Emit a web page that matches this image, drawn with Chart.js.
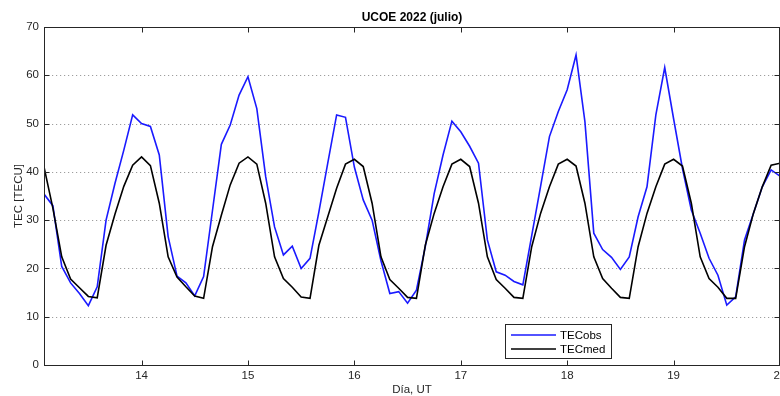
<!DOCTYPE html>
<html>
<head>
<meta charset="utf-8">
<script src="https://cdn.jsdelivr.net/npm/chart.js@4.4.1/dist/chart.umd.min.js"></script>
<style>
  html, body { margin: 0; padding: 0; background: #fff; overflow: hidden; }
  #wrap { width: 800px; height: 396px; }
</style>
</head>
<body>
<div id="wrap"><canvas id="tecChart" width="800" height="396"></canvas></div>
<script>
// TEC observado vs mediana, UCOE julio 2022 (muestras cada 2 h)
const startDay = 13 + 2 / 24;
const stepDay = 2 / 24;

const tecObs = [
  35.4, 33.0, 20.4, 17.0, 14.8, 12.3, 16.2, 30.0, 37.6, 44.5, 51.8, 50.0,
  49.4, 43.5, 26.6, 18.4, 17.0, 14.3, 18.3, 32.0, 45.7, 49.7, 55.9, 59.7,
  53.1, 39.0, 28.6, 22.8, 24.6, 20.0, 22.1, 31.7, 41.8, 51.8, 51.3, 41.0,
  34.2, 30.0, 21.6, 14.8, 15.2, 12.8, 15.5, 24.5, 35.5, 43.5, 50.5, 48.3,
  45.3, 41.8, 25.9, 19.3, 18.6, 17.3, 16.6, 26.8, 37.0, 47.3, 52.5, 57.0,
  64.2, 50.4, 27.3, 23.9, 22.3, 19.8, 22.4, 30.7, 36.9, 51.8, 61.6, 51.0,
  40.7, 32.1, 27.3, 22.1, 18.6, 12.4, 14.1, 25.9, 31.4, 36.9, 40.4, 39.1
];

const tecMed = [
  41.0, 32.5, 22.4, 17.8, 16.0, 14.2, 13.9, 24.8, 31.2, 37.0, 41.4, 43.1,
  41.3, 33.5, 22.4, 18.2, 16.2, 14.3, 13.8, 24.5, 31.0, 37.3, 41.8, 43.1,
  41.6, 33.5, 22.4, 17.9, 16.1, 14.1, 13.8, 24.8, 30.7, 36.6, 41.6, 42.6,
  41.1, 33.5, 22.4, 17.7, 15.9, 14.0, 13.8, 24.8, 31.4, 36.9, 41.6, 42.6,
  41.1, 33.5, 22.4, 17.7, 15.9, 14.0, 13.8, 24.5, 31.4, 36.9, 41.6, 42.6,
  41.2, 33.5, 22.4, 17.9, 15.9, 14.0, 13.8, 24.5, 31.4, 36.9, 41.6, 42.6,
  41.2, 33.5, 22.4, 17.9, 16.1, 13.8, 13.8, 24.5, 31.4, 36.9, 41.4, 41.8
];

const xTicks = [14, 15, 16, 17, 18, 19, 20];
const yTicks = [0, 10, 20, 30, 40, 50, 60, 70];

const toPoints = (vals) => vals.map((v, i) => ({ x: startDay + i * stepDay, y: v }));

const axisColor = '#262626';
const tickFont = '11.5px "Liberation Sans", Arial, sans-serif';

// Marco, rejilla punteada, marcas de ejes, títulos y leyenda al estilo MATLAB
const matlabFrame = {
  id: 'matlabFrame',
  beforeDatasetsDraw(chart) {
    const { ctx, chartArea: a, scales: { y } } = chart;
    ctx.save();
    ctx.strokeStyle = 'rgba(0,0,0,0.38)';
    ctx.lineWidth = 1;
    ctx.setLineDash([1.2, 2.8]);
    yTicks.forEach(v => {
      if (v === 0 || v === 70) return;
      const py = Math.round(y.getPixelForValue(v)) + 0.5;
      ctx.beginPath();
      ctx.moveTo(a.left, py);
      ctx.lineTo(a.right, py);
      ctx.stroke();
    });
    ctx.restore();
  },
  afterDraw(chart) {
    const { ctx, chartArea: a, scales: { x, y } } = chart;
    const L = a.left + 0.5, R = a.right - 0.5, T = a.top + 0.5, B = a.bottom + 0.5;
    ctx.save();
    ctx.strokeStyle = axisColor;
    ctx.lineWidth = 1;
    ctx.strokeRect(L, T, R - L, B - T);
    const tl = 5;
    ctx.beginPath();
    xTicks.forEach(v => {
      const px = Math.round(x.getPixelForValue(v)) + 0.5;
      ctx.moveTo(px, B); ctx.lineTo(px, B - tl);
      ctx.moveTo(px, T); ctx.lineTo(px, T + tl);
    });
    yTicks.forEach(v => {
      const py = Math.round(y.getPixelForValue(v)) + 0.5;
      ctx.moveTo(L, py); ctx.lineTo(L + tl, py);
      ctx.moveTo(R, py); ctx.lineTo(R - tl, py);
    });
    ctx.stroke();

    // títulos
    const cx = (a.left + a.right) / 2;
    ctx.fillStyle = '#000';
    ctx.textAlign = 'center';
    ctx.textBaseline = 'middle';
    ctx.font = 'bold 12px "Liberation Sans", Arial, sans-serif';
    ctx.fillText('UCOE 2022 (julio)', cx, 18);
    ctx.fillStyle = axisColor;
    ctx.font = '11.5px "Liberation Sans", Arial, sans-serif';
    ctx.fillText('Día, UT', cx, 390);
    ctx.save();
    ctx.translate(19, (a.top + a.bottom) / 2);
    ctx.rotate(-Math.PI / 2);
    ctx.fillText('TEC [TECU]', 0, 0);
    ctx.restore();

    // leyenda
    const lx = 505.5, ly = 324.5, lw = 106, lh = 34;
    ctx.fillStyle = '#fff';
    ctx.fillRect(lx, ly, lw, lh);
    ctx.strokeStyle = axisColor;
    ctx.strokeRect(lx, ly, lw, lh);
    const items = [chart.data.datasets[0], chart.data.datasets[1]];
    const rows = [335, 349];
    items.forEach((ds, i) => {
      ctx.strokeStyle = ds.borderColor;
      ctx.lineWidth = ds.borderWidth;
      ctx.beginPath();
      ctx.moveTo(511, rows[i]);
      ctx.lineTo(556, rows[i]);
      ctx.stroke();
      ctx.fillStyle = '#000';
      ctx.textAlign = 'left';
      ctx.font = '11.5px "Liberation Sans", Arial, sans-serif';
      ctx.fillText(ds.label, 560, rows[i] + 0.5);
    });
    ctx.restore();
  }
};

new Chart(document.getElementById('tecChart'), {
  type: 'line',
  data: {
    datasets: [
      {
        label: 'TECobs',
        data: toPoints(tecObs),
        borderColor: '#1a1aff',
        borderWidth: 1.6,
        pointRadius: 0,
        tension: 0,
        order: 1
      },
      {
        label: 'TECmed',
        data: toPoints(tecMed),
        borderColor: '#000000',
        borderWidth: 1.6,
        pointRadius: 0,
        tension: 0,
        order: 0
      }
    ]
  },
  options: {
    responsive: false,
    animation: false,
    devicePixelRatio: 1,
    layout: { padding: { left: 0, top: 27, right: 20, bottom: 0 } },
    plugins: { legend: { display: false }, title: { display: false }, tooltip: { enabled: false } },
    scales: {
      x: {
        type: 'linear',
        min: startDay,
        max: 20,
        afterBuildTicks: (s) => { s.ticks = xTicks.map(v => ({ value: v })); },
        afterFit: (s) => { s.height = 31; },
        grid: { display: false, drawTicks: false },
        border: { display: false },
        ticks: { color: axisColor, font: { family: '"Liberation Sans", Arial, sans-serif', size: 11.5 }, padding: 4, maxRotation: 0, autoSkip: false }
      },
      y: {
        min: 0,
        max: 70,
        afterBuildTicks: (s) => { s.ticks = yTicks.map(v => ({ value: v })); },
        afterFit: (s) => { s.width = 44; },
        grid: { display: false, drawTicks: false },
        border: { display: false },
        ticks: { color: axisColor, font: { family: '"Liberation Sans", Arial, sans-serif', size: 11.5 }, padding: 5 }
      }
    }
  },
  plugins: [matlabFrame]
});
</script>
</body>
</html>
